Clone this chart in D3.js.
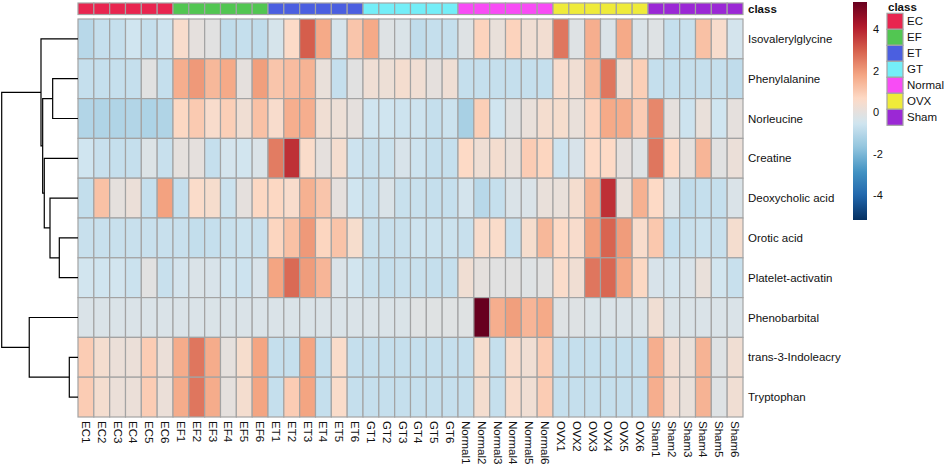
<!DOCTYPE html>
<html>
<head>
<meta charset="utf-8">
<script src="https://cdn.jsdelivr.net/npm/d3@7"></script>
<style>
  html, body { margin: 0; padding: 0; background: #ffffff; }
  svg { display: block; font-family: "Liberation Sans", Arial, Helvetica, sans-serif; }
</style>
</head>
<body>
<svg id="chart" width="945" height="466"></svg>
<script>
// ---------------- DATA ----------------
const rowNames = ["Isovalerylglycine", "Phenylalanine", "Norleucine", "Creatine", "Deoxycholic acid",
  "Orotic acid", "Platelet-activatin", "Phenobarbital", "trans-3-Indoleacry", "Tryptophan"];

const groups = ["EC", "EF", "ET", "GT", "Normal", "OVX", "Sham"];
const groupColors = ["#E8254F", "#52C652", "#4B5FE0", "#74EEF8", "#F84CF5", "#EFEB3A", "#9B28D5"];

const colNames = ["EC1","EC2","EC3","EC4","EC5","EC6","EF1","EF2","EF3","EF4","EF5","EF6",
  "ET1","ET2","ET3","ET4","ET5","ET6","GT1","GT2","GT3","GT4","GT5","GT6",
  "Normal1","Normal2","Normal3","Normal4","Normal5","Normal6","OVX1","OVX2","OVX3","OVX4","OVX5","OVX6",
  "Sham1","Sham2","Sham3","Sham4","Sham5","Sham6"];
const colClass = ["EC","EC","EC","EC","EC","EC","EF","EF","EF","EF","EF","EF",
  "ET","ET","ET","ET","ET","ET","GT","GT","GT","GT","GT","GT",
  "Normal","Normal","Normal","Normal","Normal","Normal","OVX","OVX","OVX","OVX","OVX","OVX",
  "Sham","Sham","Sham","Sham","Sham","Sham"];

// z-scores, one array per metabolite (row), 42 samples each
const isovalerylglycine = [-1.0,-0.75,-0.75,-0.55,-0.75,-0.6, 0.5,0,-0.1,-0.85,-0.75,-0.85, -0.4,0.6,3.0,1.7,-0.4,1.1, 1.7,-0.2,-0.3,-0.85,-0.75,-0.75, -0.2,0.8,0.1,0.8,0.3,0.35, 2.6,-0.2,1.6,-0.3,1.7,-0.3, -0.2,-0.75,-0.7,1.2,0.5,-0.45];
const phenylalanine = [-0.75,-0.75,-0.75,-0.75,-0.1,-0.75, 1.6,2.0,1.4,1.7,0,1.9, 1.1,1.3,1.5,0.1,-0.75,-0.1, 0.25,0.2,0.4,0.3,0,0.25, -0.75,-0.75,-0.75,-0.75,-0.75,-0.75, 0.5,0.3,1.4,2.6,0.25,0.9, -0.75,-0.75,-0.75,-0.75,-0.75,-0.85];
const norleucine = [-1.1,-1.15,-1.15,-1.1,-1.2,-1.15, 0.7,1.0,0.5,0.9,0.3,1.2, 0.5,1.6,1.6,0.3,0.2,0, -0.55,-0.55,-0.6,-0.6,-0.75,-0.65, -1.3,0.9,-0.55,-0.1,0.1,0.4, 0.45,0.1,0.8,1.7,1.65,0.95, 2.3,0,-0.6,0.1,-0.55,0];
const creatine = [-0.55,-0.7,-0.75,-0.75,-0.25,-0.7, 0,0,-0.75,-0.45,-0.5,-0.3, 2.5,3.75,0.55,0,0.4,-0.6, -0.7,-0.65,-0.35,-0.6,-0.75,-0.75, 0.65,0.25,0.4,0.1,0.95,0.75, -0.6,-0.35,0.65,0.65,0,-0.2, 2.6,0.65,0,1.45,-0.1,0.15];
const deoxycholicAcid = [-0.8,1.2,0,0.15,-0.75,1.85, -0.75,0.55,0.45,-0.65,0,0.7, 0.7,0.5,1.55,1.1,0,-0.55, -0.7,-0.3,-0.7,-0.7,-0.75,-0.75, -0.45,-1.0,-0.75,-0.3,-0.3,0.1, 0.1,0.4,1.55,3.75,0.1,1.55, 0.65,-0.3,-0.85,-0.75,-0.75,-0.3];
const oroticAcid = [-0.7,-0.7,-0.7,-0.7,-0.7,-0.7, -0.7,-0.8,-0.75,-0.7,-0.65,-0.7, 0.75,1.2,2.0,0.75,1.15,0.45, -0.7,-0.7,-0.7,-0.6,-0.65,-0.65, -0.7,0.5,0.55,-0.7,0.45,1.4, 0.65,0.5,1.9,2.9,1.95,0.5, 1.05,-0.75,-0.7,-0.65,-0.7,0.4];
const plateletActivatin = [-0.5,-0.55,-0.5,-0.65,-0.1,-0.7, -0.45,-0.3,-0.35,-0.5,-0.6,-0.35, 1.8,2.8,1.95,1.45,-0.3,-0.5, -0.7,-0.75,-0.7,-0.7,-0.75,-0.75, 0.3,0,-0.1,-0.1,-0.2,-0.1, 0.55,0.3,2.6,2.85,1.75,0.7, -0.35,-0.45,-0.35,0.1,-0.5,-0.7];
const phenobarbital = [-0.3,-0.3,-0.3,-0.3,-0.3,-0.3, -0.3,-0.3,-0.3,-0.3,-0.3,-0.3, -0.3,-0.3,-0.3,-0.3,-0.3,-0.3, -0.3,-0.3,-0.3,-0.15,-0.15,-0.15, -0.15,5.3,1.6,1.9,1.45,1.7, -0.2,-0.2,-0.3,-0.3,-0.3,-0.3, 0.3,-0.3,-0.3,-0.3,-0.3,-0.3];
const indoleacry = [0.95,0.4,0.15,0.15,0.95,0.15, 1.65,2.6,1.65,0,0.45,1.8, -0.75,-0.75,1.8,-0.75,0.55,-0.75, -0.75,-0.75,-0.75,-0.75,-0.75,-0.75, -0.75,0.45,-0.75,0.5,0.3,0.95, -0.75,-0.75,-0.75,-0.75,-0.75,-0.75, 1.6,0.35,0.1,1.5,-0.2,0.3];
const tryptophan = [0.95,0.4,0.15,0.15,0.95,0.15, 1.65,2.6,1.65,0,0.4,1.8, -0.75,0.95,1.8,-0.75,0.55,-0.75, -0.75,-0.75,-0.75,-0.75,-0.75,-0.75, -0.75,0.4,-0.75,0.5,0.3,0.95, -0.75,-0.75,-0.75,-0.75,-0.75,-0.75, 1.6,0.35,0.1,1.5,-0.2,0.3];
const rowValues = [isovalerylglycine, phenylalanine, norleucine, creatine, deoxycholicAcid,
  oroticAcid, plateletActivatin, phenobarbital, indoleacry, tryptophan];

// row dendrogram (leaf = row index, h = merge height)
const rowTree = { h: 10.0, children: [
  { h: 4.85, children: [
    { leaf: 0 },
    { h: 4.63, children: [
      { h: 3.32, children: [{ leaf: 1 }, { leaf: 2 }] },
      { h: 4.42, children: [
        { leaf: 3 },
        { h: 3.67, children: [
          { leaf: 4 },
          { h: 2.45, children: [{ leaf: 5 }, { leaf: 6 }] }
        ]}
      ]}
    ]}
  ]},
  { h: 6.39, children: [
    { leaf: 7 },
    { h: 1.14, children: [{ leaf: 8 }, { leaf: 9 }] }
  ]}
]};

const legendTicks = [-4, -2, 0, 2, 4];
const valueRange = [-5.2, 5.3];
const paletteRdBu10 = ["#053061","#2166AC","#4393C3","#92C5DE","#D1E5F0","#FDDBC7","#F4A582","#D6604D","#B2182B","#67001F"];

// ---------------- LAYOUT ----------------
const svg = d3.select("#chart");
svg.append("rect").attr("width", 945).attr("height", 466).attr("fill", "#fff");

const hmLeft = 78, hmRight = 743, hmTop = 19, hmBottom = 417;
const x = d3.scaleBand().domain(colNames).range([hmLeft, hmRight]).padding(0);
const y = d3.scaleBand().domain(rowNames).range([hmTop, hmBottom]).padding(0);

const stops = d3.range(paletteRdBu10.length).map(i => valueRange[0] + i * (valueRange[1] - valueRange[0]) / (paletteRdBu10.length - 1));
const color = d3.scaleLinear().domain(stops).range(paletteRdBu10).interpolate(d3.interpolateRgb).clamp(true);
const classColor = d3.scaleOrdinal().domain(groups).range(groupColors);

const borderCol = "#a3a3a3";

// heatmap cells
const cells = [];
rowValues.forEach((arr, r) => arr.forEach((v, c) => cells.push({ row: rowNames[r], col: colNames[c], v })));
svg.append("g").selectAll("rect").data(cells).join("rect")
  .attr("x", d => x(d.col)).attr("y", d => y(d.row))
  .attr("width", x.bandwidth()).attr("height", y.bandwidth())
  .attr("fill", d => color(d.v))
  .attr("stroke", borderCol).attr("stroke-width", 1.2);

// class annotation bar
const annTop = 3, annH = 11.5;
svg.append("g").selectAll("rect").data(colNames).join("rect")
  .attr("x", d => x(d)).attr("y", annTop)
  .attr("width", x.bandwidth()).attr("height", annH)
  .attr("fill", (d, i) => classColor(colClass[i]))
  .attr("stroke", borderCol).attr("stroke-width", 1.2);
svg.append("text").attr("x", 748).attr("y", annTop + annH / 2)
  .attr("dominant-baseline", "central").attr("font-size", 11.5).attr("font-weight", "bold")
  .attr("fill", "#111").text("class");

// row labels
svg.append("g").selectAll("text").data(rowNames).join("text")
  .attr("x", 748).attr("y", d => y(d) + y.bandwidth() / 2)
  .attr("dominant-baseline", "central").attr("font-size", 11.5).attr("fill", "#111")
  .text(d => d);

// column labels (rotated)
svg.append("g").selectAll("text").data(colNames).join("text")
  .attr("transform", d => `translate(${x(d) + x.bandwidth() / 2},421) rotate(90)`)
  .attr("dominant-baseline", "central").attr("font-size", 11.5).attr("fill", "#111")
  .text(d => d);

// dendrogram
const hScale = d3.scaleLinear().domain([0, rowTree.h]).range([hmLeft, 1.7]);
function layout(node) {
  if (node.leaf !== undefined) { node.y = y(rowNames[node.leaf]) + y.bandwidth() / 2; node.hh = 0; return; }
  node.children.forEach(layout);
  node.y = (node.children[0].y + node.children[1].y) / 2;
  node.hh = node.h;
}
layout(rowTree);
const dendro = svg.append("g").attr("fill", "none").attr("stroke", "#000").attr("stroke-width", 1.2);
function drawNode(node) {
  if (node.leaf !== undefined) return;
  const nx = hScale(node.hh);
  const [a, b] = node.children;
  dendro.append("path").attr("d",
    `M${hScale(a.hh)},${a.y}H${nx}V${b.y}H${hScale(b.hh)}`);
  node.children.forEach(drawNode);
}
drawNode(rowTree);

// color legend
const legX = 853, legW = 14, legTop = 2, legBottom = 220;
const ly = d3.scaleLinear().domain(valueRange).range([legBottom, legTop]);
const defs = svg.append("defs");
const grad = defs.append("linearGradient").attr("id", "lg").attr("x1", 0).attr("x2", 0).attr("y1", 1).attr("y2", 0);
d3.range(0, 1.0001, 0.02).forEach(t => {
  grad.append("stop").attr("offset", t).attr("stop-color", color(valueRange[0] + t * (valueRange[1] - valueRange[0])));
});
svg.append("rect").attr("x", legX).attr("y", legTop).attr("width", legW).attr("height", legBottom - legTop)
  .attr("fill", "url(#lg)");
svg.append("g").selectAll("text").data(legendTicks).join("text")
  .attr("x", 873).attr("y", d => ly(d)).attr("dominant-baseline", "central")
  .attr("font-size", 11).attr("fill", "#111").text(d => d);

// class legend
const clX = 887, clTop = 13.3, clBox = 16;
svg.append("text").attr("x", 888).attr("y", 6.5).attr("dominant-baseline", "central")
  .attr("font-size", 11.5).attr("font-weight", "bold").attr("fill", "#111").text("class");
const cl = svg.append("g").selectAll("g").data(groups).join("g");
cl.append("rect").attr("x", clX).attr("y", (d, i) => clTop + i * clBox)
  .attr("width", 16).attr("height", clBox)
  .attr("fill", d => classColor(d)).attr("stroke", borderCol).attr("stroke-width", 1.2);
cl.append("text").attr("x", 907).attr("y", (d, i) => clTop + i * clBox + clBox / 2)
  .attr("dominant-baseline", "central").attr("font-size", 11.5).attr("fill", "#111").text(d => d);
</script>
</body>
</html>
